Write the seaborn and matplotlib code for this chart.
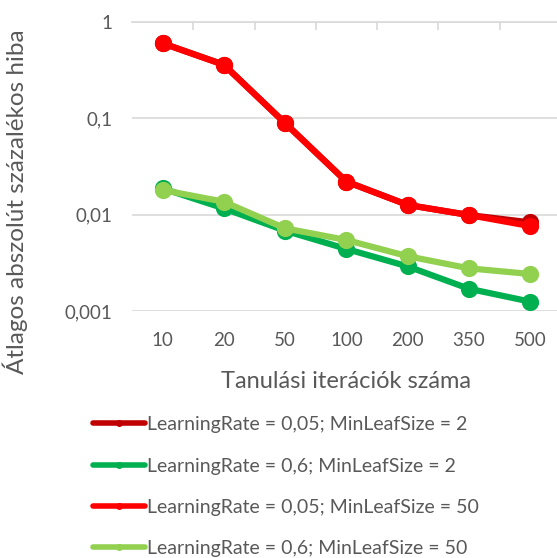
import numpy as np
import pandas as pd
import matplotlib.pyplot as plt
import seaborn as sns
from matplotlib.lines import Line2D
from matplotlib.ticker import NullLocator, FixedLocator

# Adatok
iteraciok = ["10", "20", "50", "100", "200", "350", "500"]
lr005_mls2 = [0.60, 0.36, 0.089, 0.022, 0.0126, 0.0099, 0.0083]
lr06_mls2 = [0.0187, 0.0116, 0.0068, 0.0044, 0.0029, 0.0017, 0.00125]
lr005_mls50 = [0.60, 0.358, 0.0887, 0.022, 0.0126, 0.0099, 0.0076]
lr06_mls50 = [0.018, 0.0136, 0.0072, 0.00545, 0.0037, 0.00277, 0.00242]

cimkek = ["LearningRate = 0,05; MinLeafSize = 2",
          "LearningRate = 0,6; MinLeafSize = 2",
          "LearningRate = 0,05; MinLeafSize = 50",
          "LearningRate = 0,6; MinLeafSize = 50"]
szinek = ["#C00000", "#00B050", "#FF0000", "#92D050"]

df = pd.DataFrame({
    "iter": iteraciok * 4,
    "hiba": lr005_mls2 + lr06_mls2 + lr005_mls50 + lr06_mls50,
    "sorozat": np.repeat(cimkek, len(iteraciok)),
})

sns.set_style("white")
plt.rcParams["font.family"] = ["Lato", "DejaVu Sans"]
szurke = "#595959"
racs = "#D9D9D9"

fig = plt.figure(figsize=(5.57, 5.58), dpi=100)
ax = fig.add_axes([0.237, 0.4427, 0.77, 0.518])

sns.pointplot(data=df, x="iter", y="hiba", hue="sorozat", hue_order=cimkek,
              order=iteraciok, palette=szinek, markers="o", markersize=9,
              linewidth=4.5, errorbar=None, ax=ax, legend=False)

ax.set_yscale("log")
ax.set_ylim(0.001, 1)
ax.set_xlim(-0.5, 6.5)
ax.yaxis.set_major_locator(FixedLocator([0.001, 0.01, 0.1, 1]))
ax.yaxis.set_minor_locator(NullLocator())
ax.set_yticklabels(["0,001", "0,01", "0,1", "1"])
ax.set_xticks(range(len(iteraciok)))
ax.set_xticklabels(iteraciok)
ax.set_xticks(np.arange(0.5, 6, 1), minor=True)

ax.grid(axis="y", color=racs, linewidth=1.2)
ax.set_axisbelow(True)
for s in ["left", "right", "bottom"]:
    ax.spines[s].set_visible(False)
ax.spines["top"].set_color(racs)
ax.spines["top"].set_linewidth(1.2)

ax.tick_params(axis="both", which="major", length=0, labelsize=13.5,
               labelcolor=szurke)
ax.tick_params(axis="x", pad=15)
ax.tick_params(axis="y", pad=14)
ax.tick_params(axis="x", which="minor", top=True, bottom=False,
               direction="in", length=6, color=racs, width=1.2)

ax.set_xlabel("Tanulási iterációk száma", fontsize=17, color=szurke, labelpad=16)
ax.set_ylabel("Átlagos abszolút százalékos hiba", fontsize=17.5, color=szurke)
ax.yaxis.set_label_coords(-0.242, 0.377)

kezelok = [Line2D([0], [0], color=c, linewidth=4, marker="o", markersize=4)
           for c in szinek]
fig.legend(kezelok, cimkek, loc="upper left", bbox_to_anchor=(0.153, 0.268),
           frameon=False, fontsize=14, labelcolor=szurke, handlelength=2.7,
           handletextpad=0.1, labelspacing=1.25, borderaxespad=0)

fig.savefig("out.png", dpi=100)
